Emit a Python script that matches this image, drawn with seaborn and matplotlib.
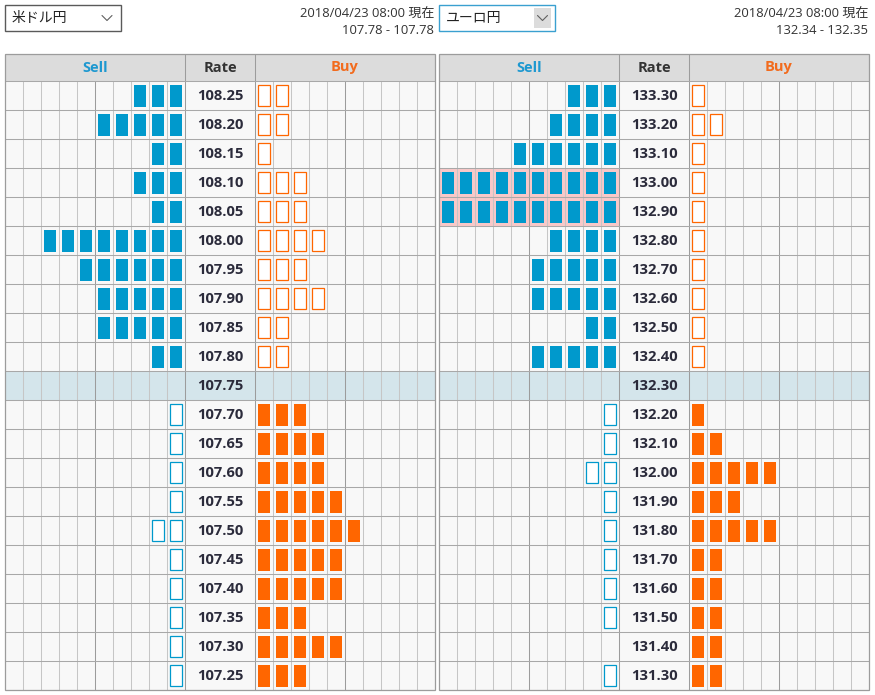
import matplotlib.pyplot as plt
from matplotlib.patches import Rectangle
from matplotlib import font_manager
import seaborn as sns

# USD/JPY order book
usd_name = "米ドル円"
usd_time = "2018/04/23 08:00 現在"
usd_quote = "107.78 - 107.78"
usd_rates = ["108.25", "108.20", "108.15", "108.10", "108.05", "108.00", "107.95",
             "107.90", "107.85", "107.80", "107.75", "107.70", "107.65", "107.60",
             "107.55", "107.50", "107.45", "107.40", "107.35", "107.30", "107.25"]
usd_sell = [3, 5, 2, 3, 2, 8, 6, 5, 5, 2, 0, 1, 1, 1, 1, 2, 1, 1, 1, 1, 1]
usd_buy = [2, 2, 1, 3, 3, 4, 3, 4, 2, 2, 0, 3, 4, 4, 5, 6, 5, 5, 3, 5, 3]
usd_current = "107.75"

# EUR/JPY order book
eur_name = "ユーロ円"
eur_time = "2018/04/23 08:00 現在"
eur_quote = "132.34 - 132.35"
eur_rates = ["133.30", "133.20", "133.10", "133.00", "132.90", "132.80", "132.70",
             "132.60", "132.50", "132.40", "132.30", "132.20", "132.10", "132.00",
             "131.90", "131.80", "131.70", "131.60", "131.50", "131.40", "131.30"]
eur_sell = [3, 4, 6, 10, 10, 4, 5, 5, 2, 5, 0, 1, 1, 2, 1, 1, 1, 1, 1, 0, 1]
eur_buy = [1, 2, 1, 1, 1, 1, 1, 1, 1, 1, 0, 1, 2, 5, 3, 5, 2, 2, 2, 2, 2]
eur_current = "132.30"
eur_highlight = ["133.00", "132.90"]

W, H = 875, 695
CELL_W, ROW_H, HDR_H, RATE_W = 18, 29, 27, 70

BLUE = '#0099cc'
ORANGE = '#ff6600'
SELL_TXT = '#1d98d0'
BUY_TXT = '#f26b1d'
GRID_LIGHT = '#c6c6c6'
GRID_DARK = '#9c9c9c'

sns.set_theme(style='white')


def has_bold(name):
    path = font_manager.findfont(font_manager.FontProperties(family=name, weight='bold'),
                                 fallback_to_default=False)
    f = font_manager.get_font(path)
    return name.lower() in f.family_name.lower() and 'bold' in f.style_name.lower()


# pick a Meiryo-like latin face that really has a bold weight
LATIN = 'DejaVu Sans'
for cand in ['Noto Sans', 'Open Sans', 'Roboto', 'Lato']:
    try:
        if has_bold(cand):
            LATIN = cand
            break
    except Exception:
        pass

plt.rcParams['font.family'] = [LATIN, 'Noto Sans CJK JP', 'DejaVu Sans']


def box(ax, x, y, color, filled):
    if filled:
        ax.add_patch(Rectangle((x + 2.7 / CELL_W, y + 4 / ROW_H), 12.5 / CELL_W, 21.7 / ROW_H,
                               fc=color, ec='none', zorder=4))
    else:
        ax.add_patch(Rectangle((x + 3.2 / CELL_W, y + 4.4 / ROW_H), 11.8 / CELL_W, 21 / ROW_H,
                               fc='white', ec=color, lw=0.9, zorder=4))


def draw_table(fig, x0, y0, rates, sell, buy, current, highlight=()):
    n = len(rates)
    rw = RATE_W / CELL_W
    hdr = HDR_H / ROW_H
    total = 20 + rw
    w_px = total * CELL_W
    h_px = HDR_H + n * ROW_H
    ax = fig.add_axes([x0 / W, 1 - (y0 + h_px) / H, w_px / W, h_px / H])
    ax.set_xlim(0, total)
    ax.set_ylim(n, -hdr)
    ax.axis('off')

    cur = rates.index(current)

    # header
    ax.add_patch(Rectangle((0, -hdr), total, hdr, fc='#dcdcdc', ec='none', zorder=0))
    ax.text(5, -hdr / 2, "Sell", ha='center', va='center', fontsize=10.5,
            fontweight='bold', color=SELL_TXT)
    ax.text(10 + rw / 2, -hdr / 2, "Rate", ha='center', va='center', fontsize=10.5,
            fontweight='bold', color='#333333')
    ax.text(15 + rw, -hdr / 2, "Buy", ha='center', va='center', fontsize=10.5,
            fontweight='bold', color=BUY_TXT)

    # row backgrounds
    for i, r in enumerate(rates):
        bg = '#d4e5eb' if i == cur else '#f8f8f8'
        ax.add_patch(Rectangle((0, i), total, 1, fc=bg, ec='none', zorder=0))
        if r in highlight:
            ax.add_patch(Rectangle((0, i), 10, 1, fc='#f8c8c8', ec='none', zorder=1))

    # grid
    for j in range(1, 10):
        c = GRID_DARK if j == 5 else GRID_LIGHT
        ax.vlines(j, 0, n, color=c, lw=0.75, zorder=2)
        ax.vlines(10 + rw + j, 0, n, color=c, lw=0.75, zorder=2)
    ax.vlines([10, 10 + rw], -hdr, n, color=GRID_DARK, lw=0.75, zorder=3)
    ax.hlines(range(0, n + 1), 0, total, color='#a8a8a8', lw=0.75, zorder=3)
    ax.add_patch(Rectangle((0, -hdr), total, n + hdr, fill=False, ec=GRID_DARK,
                           lw=0.9, zorder=5, clip_on=False))

    # orders
    for i, r in enumerate(rates):
        above = i < cur
        for k in range(sell[i]):
            box(ax, 9 - k, i, BLUE, above)
        for k in range(buy[i]):
            box(ax, 10 + rw + k, i, ORANGE, not above)
        ax.text(10 + rw / 2, i + 0.52, r, ha='center', va='center', fontsize=10.6,
                fontweight='bold', color='#2b2b3b', zorder=6)
    return ax


def draw_header(ui, x0, right, name, time_txt, quote, active):
    ec = '#3aa0d0' if active else '#5a5a5a'
    ui.add_patch(Rectangle((x0, 5), 116, 26, fc='white', ec=ec, lw=1.0))
    ui.text(x0 + 7, 18.5, name, ha='left', va='center', fontsize=10, color='#222222')
    cx = x0 + 102
    if active:
        ui.add_patch(Rectangle((x0 + 95, 8), 17, 20, fc='#dcdcdc', ec='none'))
        cx = x0 + 103.5
    ui.plot([cx - 5, cx, cx + 5], [15.5, 20.5, 15.5], color='#606060', lw=0.8)
    ui.text(right, 14, time_txt, ha='right', va='center', fontsize=9.4, color='#333333')
    ui.text(right, 31, quote, ha='right', va='center', fontsize=9.4, color='#333333')


fig = plt.figure(figsize=(W / 100, H / 100), dpi=100)
ui = fig.add_axes([0, 0, 1, 1])
ui.set_xlim(0, W)
ui.set_ylim(H, 0)
ui.axis('off')

draw_header(ui, 5, 434, usd_name, usd_time, usd_quote, False)
draw_header(ui, 439, 868, eur_name, eur_time, eur_quote, True)

draw_table(fig, 5, 54, usd_rates, usd_sell, usd_buy, usd_current)
draw_table(fig, 439, 54, eur_rates, eur_sell, eur_buy, eur_current, eur_highlight)

fig.savefig('out.png', dpi=100, facecolor='white')
